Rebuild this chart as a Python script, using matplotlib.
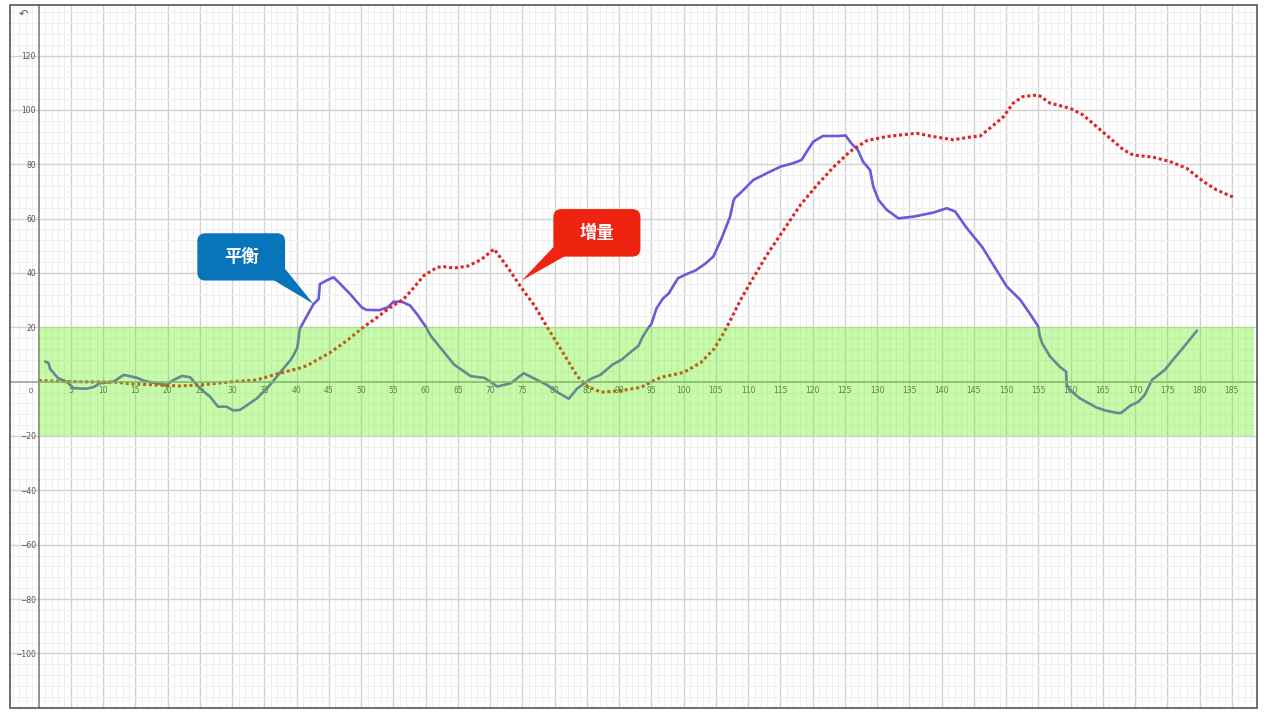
import numpy as np
import matplotlib
matplotlib.use("Agg")
import matplotlib.pyplot as plt
from matplotlib.patches import FancyBboxPatch, Polygon, Rectangle
from matplotlib.ticker import FixedLocator, MultipleLocator

# balance series (平衡)
blue_x = [1, 1.5, 1.8, 3.0, 4.3, 5.4, 7.4, 8.5, 9.5, 11.6, 13.2, 14.1, 15.4, 16.2, 17.8,
          19.8, 20.9, 22.2, 23.5, 24, 25, 26.6, 27.8, 29.1, 30.2, 31.2, 32.3, 33.8, 35.4,
          36.5, 38, 39.1, 39.7, 40.1, 40.5, 41.3, 42.6, 43.4, 43.6, 44.6, 45.7, 46.5, 48.3,
          50.1, 50.8, 52.8, 54.1, 55, 56.3, 57.6, 58.7, 60.1, 60.8, 62.3, 64.4, 67, 69.1,
          71.1, 73.2, 75.2, 76.7, 78.8, 80.5, 82.2, 83.5, 85.6, 87.1, 89, 90.4, 91.7, 93,
          93.6, 94.4, 95, 95.8, 96.8, 97.7, 99.1, 100.3, 101.9, 103.4, 104.6, 105.9, 107.2,
          107.7, 107.9, 109, 110.8, 112.9, 115, 117, 118.3, 119.1, 120.1, 121.6, 124.2,
          125.1, 126, 127, 127.8, 128.9, 129.4, 130.2, 131.5, 133.3, 135.6, 138.7, 140.8,
          142.1, 143.9, 146.3, 148.5, 150.1, 152.2, 154, 155, 155.2, 155.6, 156.8, 158.3,
          159.3, 159.4, 159.9, 161.4, 164, 165.5, 167.4, 167.9, 169.2, 170.5, 171.5, 172.6,
          174.6, 176.1, 177.6, 179.6]
blue_y = [7.4, 6.9, 4.6, 1.3, 0, -2.4, -2.6, -2.0, -0.6, 0, 2.5, 2.0, 1.3, 0.4, -0.4,
          -1.2, 0.6, 2.1, 1.6, 0.2, -2.5, -5.6, -9.2, -9.2, -10.6, -10.4, -8.7, -6.2, -2.5,
          0.6, 5, 8.1, 10.6, 12.5, 19.5, 22.9, 28.5, 30.4, 35.9, 37.2, 38.4, 36.6, 32.2,
          27.3, 26.4, 26.3, 27.3, 29.4, 29.4, 28, 24.7, 19.9, 16.8, 12.4, 6.3, 2, 1.4,
          -1.8, -0.6, 3.1, 1.3, -1.2, -4, -6.3, -2.5, 1.0, 2.5, 6.3, 8.1, 10.7, 13.2,
          16.3, 19.4, 21.2, 27, 30.6, 32.5, 38, 39.4, 41, 43.5, 46, 52.8, 60.7,
          66.3, 67.5, 69.9, 74.2, 76.7, 79.1, 80.4, 81.6, 84.7, 88.3, 90.4, 90.4,
          90.6, 87.7, 85.3, 81, 77.9, 71.8, 66.9, 63.2, 60.1, 60.7, 62.2, 63.8,
          62.6, 56.5, 49.5, 41.1, 35, 30.1, 23.9, 20.2, 17, 14, 9.3, 5.5,
          3.7, -1.2, -3.1, -6.1, -9.5, -10.7, -11.6, -11.4, -8.9, -7.4, -4.9, 0.6,
          4.3, 8.7, 12.9, 18.8]

# increment series (增量)
red_x = [0, 4.3, 12, 14.1, 19.8, 21.9, 25, 30.2, 33.8, 36.9, 40.5, 41.6, 45.2, 47.8, 50.1,
         52.5, 54.5, 56.6, 58.2, 59.7, 61.8, 62.8, 64.4, 66.5, 68.6, 70.6, 72.7, 74.8, 76.9,
         78.9, 81, 83.5, 85.1, 87.2, 90.3, 93.4, 94.9, 96.5, 100, 102.6, 104.7, 106.2, 107.4,
         108.8, 110.3, 112.9, 115.5, 118.1, 120.7, 123.3, 125.8, 128.4, 131.5, 136.1, 138.7,
         141.8, 144.4, 146, 147.5, 149.6, 151.1, 152.6, 155, 156.8, 159.9, 161.9, 164, 166.1,
         168.2, 169.7, 172.8, 175.4, 178, 180.6, 182.6, 185.2]
red_y = [0.4, 0, -0.2, -0.8, -1.4, -1.6, -1.2, 0, 0.6, 2.8, 5, 5.9, 10.7, 15.1, 19.6,
         23.7, 27.3, 30.4, 34.7, 39, 42.1, 42.3, 41.8, 42.5, 44.9, 48.8, 42.1, 34.7, 27.9,
         19.8, 11.8, 2, -1.8, -3.9, -3.3, -2.1, -0.2, 1.6, 3.4, 6.9, 12, 17.9, 23.3,
         30, 36.2, 46.6, 55.8, 65, 72.4, 79.1, 84.7, 88.7, 90.2, 91.4, 90.2,
         89, 90, 90.4, 93.3, 97.5, 102.5, 104.9, 105.5, 102.5, 100.6, 98.2, 93.9, 89.6,
         85.3, 83.4, 82.6, 81, 78.5, 73.6, 70.6, 67.9]

x_ticks = list(range(5, 190, 5))
y_ticks = [-100, -80, -60, -40, -20, 20, 40, 60, 80, 100, 120]

fig = plt.figure(figsize=(12.67, 7.13), dpi=100)
ax = fig.add_axes([10 / 1267, 5 / 713, 1247 / 1267, 703 / 713])
ax.set_xlim(-4.45, 188.9)
ax.set_ylim(-120.1, 138.6)

# grid
ax.set_axisbelow(True)
ax.xaxis.set_major_locator(FixedLocator(x_ticks))
ax.yaxis.set_major_locator(FixedLocator(y_ticks))
ax.xaxis.set_minor_locator(MultipleLocator(1))
ax.yaxis.set_minor_locator(MultipleLocator(4))
ax.grid(which="major", color="#d2d2d2", linewidth=1.0)
ax.grid(which="minor", color="#efefef", linewidth=0.7)
ax.tick_params(which="both", length=0)
ax.tick_params(axis="x", pad=3, labelsize=5.5, labelcolor="#555555")
ax.tick_params(axis="y", pad=2, labelsize=5.5, labelcolor="#555555")
for lab in ax.get_xticklabels() + ax.get_yticklabels():
    lab.set_family("Liberation Sans")

# axes through the origin
ax.spines["left"].set_position(("data", 0))
ax.spines["bottom"].set_position(("data", 0))
ax.spines["left"].set_color("#777777")
ax.spines["bottom"].set_color("#999999")
ax.spines["left"].set_linewidth(1.1)
ax.spines["bottom"].set_linewidth(1.1)
ax.spines["top"].set_visible(False)
ax.spines["right"].set_visible(False)
ax.add_patch(Rectangle((0, 0), 1, 1, transform=ax.transAxes, fill=False,
                       edgecolor="#555555", linewidth=1.2, clip_on=False, zorder=6))
ax.text(-0.9, -2.2, "0", ha="right", va="top", fontsize=5.5, color="#555555",
        family="Liberation Sans")
ax.text(-2.3, 135.5, "↶", ha="center", va="center", fontsize=8, color="#555555")

# series
ax.plot(blue_x, blue_y, color="#6a5ad8", linewidth=1.9, zorder=2,
        solid_joinstyle="round", solid_capstyle="round")
ax.plot(red_x, red_y, color="#e02424", linewidth=2.2, linestyle=(0, (1, 0.9)),
        dash_capstyle="butt", zorder=2)

# green band
ax.add_patch(Rectangle((0, -20), 188.4, 40, facecolor=(0.35, 0.94, 0.0), alpha=0.33,
                       edgecolor="none", zorder=3))

# callouts
asp = (1 / 2.717) / (1 / 6.45)


def callout(x0, x1, y0, y1, tail, text, color):
    box = FancyBboxPatch((x0, y0), x1 - x0, y1 - y0,
                         boxstyle="round,pad=0,rounding_size=1.25",
                         mutation_aspect=asp, facecolor=color, edgecolor="none", zorder=7)
    ax.add_patch(box)
    ax.add_patch(Polygon(tail, closed=True, facecolor=color, edgecolor="none", zorder=7))
    ax.text((x0 + x1) / 2, (y0 + y1) / 2, text, ha="center", va="center", color="white",
            fontsize=12.5, fontweight="bold", family=["Noto Sans CJK SC", "DejaVu Sans"],
            zorder=8)


callout(24.6, 38.2, 37.2, 54.6, [(36.4, 37.4), (38.2, 41.5), (42.6, 28.6)], "平衡", "#0874b9")
callout(79.8, 93.3, 46.0, 63.5, [(79.8, 49.5), (81.6, 46.2), (74.9, 37.2)], "增量", "#ee2411")

fig.savefig("out.png", dpi=100)
